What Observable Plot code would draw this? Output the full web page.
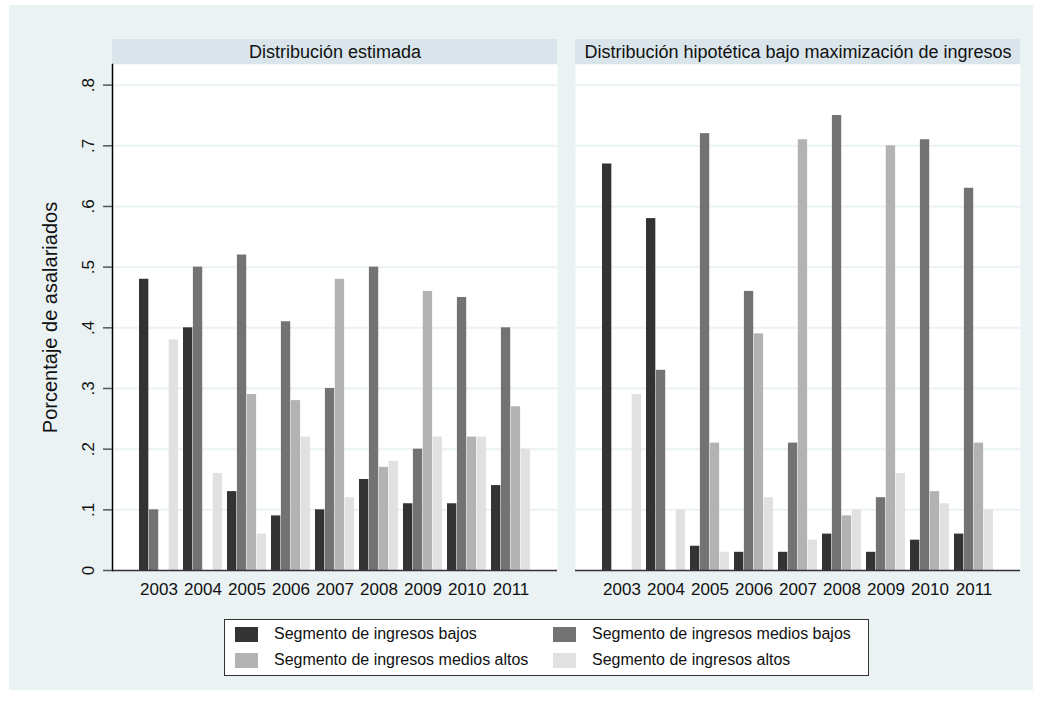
<!DOCTYPE html>
<html><head><meta charset="utf-8">
<script src="https://cdn.jsdelivr.net/npm/d3@7"></script>
<script src="https://cdn.jsdelivr.net/npm/@observablehq/plot@0.6"></script>
<style>
body{margin:0;background:#fff;font-family:"Liberation Sans",Arial,sans-serif;}
#bg{position:absolute;left:9px;top:5px;width:1024px;height:685px;background:#eaf2f3;}
#chart{position:absolute;left:0;top:0;}
#legend{position:absolute;left:224px;top:619px;width:645px;height:57px;background:#fff;border:1px solid #333;box-sizing:border-box;}
.item{position:absolute;display:flex;align-items:center;font-size:16px;color:#111;height:20px;white-space:nowrap;}
.sw{width:23px;height:15px;margin-right:16px;}
</style></head><body>
<div id="bg"></div><div id="chart"></div><div id="legend"></div>
<script>
// ---- data ----
const years = [2003, 2004, 2005, 2006, 2007, 2008, 2009, 2010, 2011];
const panels = ["Distribución estimada", "Distribución hipotética bajo maximización de ingresos"];
const series = ["Segmento de ingresos bajos", "Segmento de ingresos medios bajos", "Segmento de ingresos medios altos", "Segmento de ingresos altos"];
const colors = ["#333333", "#737373", "#b3b3b3", "#e1e1e1"];
// Distribución estimada
const estBajos      = [0.48, 0.40, 0.13, 0.09, 0.10, 0.15, 0.11, 0.11, 0.14];
const estMediosBajos= [0.10, 0.50, 0.52, 0.41, 0.30, 0.50, 0.20, 0.45, 0.40];
const estMediosAltos= [0.00, 0.00, 0.29, 0.28, 0.48, 0.17, 0.46, 0.22, 0.27];
const estAltos      = [0.38, 0.16, 0.06, 0.22, 0.12, 0.18, 0.22, 0.22, 0.20];
// Distribución hipotética
const hipBajos      = [0.67, 0.58, 0.04, 0.03, 0.03, 0.06, 0.03, 0.05, 0.06];
const hipMediosBajos= [0.00, 0.33, 0.72, 0.46, 0.21, 0.75, 0.12, 0.71, 0.63];
const hipMediosAltos= [0.00, 0.00, 0.21, 0.39, 0.71, 0.09, 0.70, 0.13, 0.21];
const hipAltos      = [0.29, 0.10, 0.03, 0.12, 0.05, 0.10, 0.16, 0.11, 0.10];
const yTicks = [0, 0.1, 0.2, 0.3, 0.4, 0.5, 0.6, 0.7, 0.8];
const yTickLabels = ["0", ".1", ".2", ".3", ".4", ".5", ".6", ".7", ".8"];
const yTitle = "Porcentaje de asalariados";

const valuesByPanel = [
  [estBajos, estMediosBajos, estMediosAltos, estAltos],
  [hipBajos, hipMediosBajos, hipMediosAltos, hipAltos]
];
const rows = [];
panels.forEach((p, pi) => series.forEach((s, si) => years.forEach((y, yi) => {
  rows.push({panel: p, series: s, year: y, value: valuesByPanel[pi][si][yi]});
})));

// ---- layout ----
const W = 1045, H = 600, mL = 112, mR = 24, mT = 64, mB = 30;
const fxPI = 0.038, xPI = 0.116, xPO = 0.538;
const frameW = W - mL - mR;
const fxStep = frameW / (panels.length - fxPI);
const panelW = fxStep * (1 - fxPI);
const xStep = panelW / (years.length - xPI + 2 * xPO);
const barW = xStep * (1 - xPI) / series.length;
const font = "'Liberation Sans', Arial, sans-serif";

const chart = Plot.plot({
  width: W, height: H, marginLeft: mL, marginRight: mR, marginTop: mT, marginBottom: mB,
  style: {background: "transparent", fontFamily: font, overflow: "visible", color: "#111"},
  fx: {domain: panels, paddingInner: fxPI, paddingOuter: 0},
  x: {domain: years, paddingInner: xPI, paddingOuter: xPO},
  y: {domain: [0, 0.834]},
  color: {domain: series, range: colors},
  marks: [
    Plot.frame({fill: "white", stroke: "none"}),
    Plot.gridY(yTicks.filter(t => t > 0), {stroke: "#eaf2f3", strokeOpacity: 1, strokeWidth: 2}),
    ...series.map((s, k) => Plot.barY(rows.filter(r => r.series === s), {
      fx: "panel", x: "year", y: "value", fill: "series",
      insetLeft: k * barW, insetRight: (series.length - 1 - k) * barW
    })),
    Plot.ruleY([0], {stroke: "#333", strokeWidth: 1.5}),
    Plot.frame({anchor: "left", stroke: "#000", strokeWidth: 1.5, facetAnchor: "left"}),
    Plot.axisY({ticks: yTicks, tickFormat: d => yTickLabels[yTicks.findIndex(t => Math.abs(t - d) < 1e-9)],
      tickSize: 9, tickPadding: 10, tickRotate: -90, fontSize: 17, stroke: "#555", strokeWidth: 1.5, label: null}),
    Plot.axisY({ticks: [], label: yTitle, labelArrow: "none", labelAnchor: "center", labelOffset: 70, fontSize: 20}),
    Plot.axisX({tickSize: 0, tickPadding: 12, fontSize: 17, label: null, tickFormat: d => String(d)}),
    Plot.axisFx({anchor: "top", tickSize: 0, tickPadding: 7, fontSize: 18, label: null})
  ]
});
document.getElementById("chart").appendChild(chart);

// header strips behind the panel titles, positioned by the fx scale
const fx = chart.scale("fx");
const svg = d3.select(chart);
panels.forEach(p => {
  svg.insert("rect", ":first-child")
    .attr("x", fx.apply(p)).attr("y", 39)
    .attr("width", fx.bandwidth).attr("height", mT - 39)
    .attr("fill", "#d9e5eb");
});

// legend
const leg = document.getElementById("legend");
const pos = [[10, 4], [328, 4], [10, 30], [328, 30]];
series.forEach((s, i) => {
  const it = document.createElement("div");
  it.className = "item";
  it.style.left = pos[i][0] + "px"; it.style.top = pos[i][1] + "px";
  it.innerHTML = `<div class="sw" style="background:${colors[i]}"></div><span>${s}</span>`;
  leg.appendChild(it);
});
</script>
</body></html>
